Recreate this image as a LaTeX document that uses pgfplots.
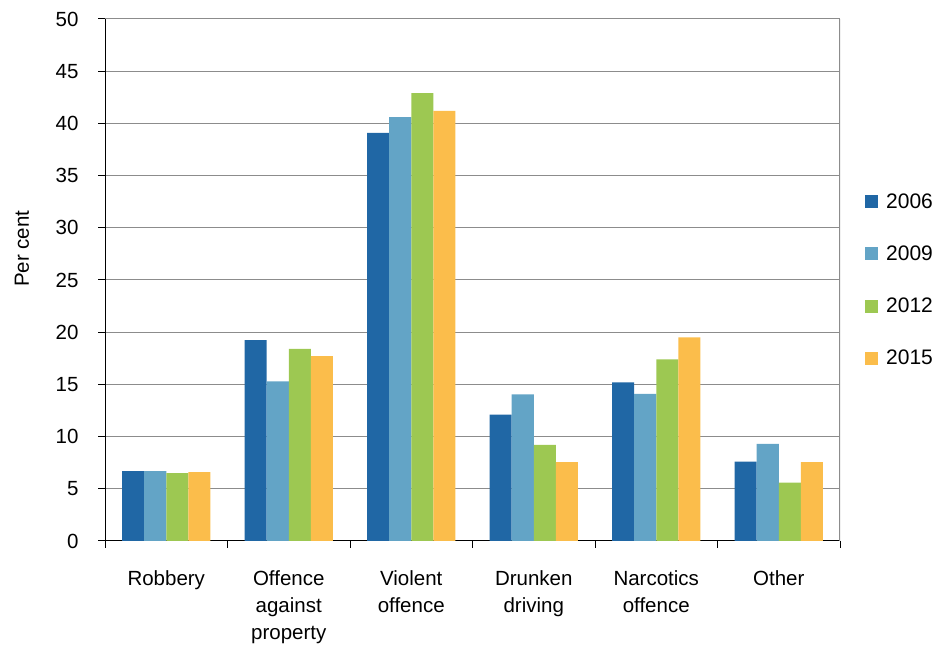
\documentclass[border=0pt]{standalone}
\usepackage{pgfplots}
\pgfplotsset{compat=1.18}
\usepackage{fontspec}
\setmainfont{Liberation Sans}

\definecolor{c2006}{HTML}{2067A5}
\definecolor{c2009}{HTML}{63A4C6}
\definecolor{c2012}{HTML}{9DC852}
\definecolor{c2015}{HTML}{FBBD4B}
\definecolor{gridgray}{HTML}{8C8C8C}

\begin{document}
\begin{tikzpicture}[x=1bp,y=1bp]
\useasboundingbox (0,0) rectangle (942,646);
\begin{axis}[
  at={(105bp,105bp)}, anchor=south west,
  scale only axis, width=735bp, height=522bp,
  font=\fontsize{20.5bp}{27bp}\selectfont,
  /pgf/number format/assume math mode=true,
  ymin=0, ymax=50, ytick={0,5,...,50},
  xmin=-0.5, xmax=5.5,
  xtick={-0.5,0.5,...,5.5},
  xticklabels={Robbery,Offence\\against\\property,Violent\\offence,Drunken\\driving,Narcotics\\offence,Other},
  x tick label as interval,
  xticklabel style={align=center, yshift=-19bp},
  yticklabel style={xshift=-16bp},
  axis x line*=bottom, axis y line*=left,
  axis line style={black, line width=1bp, -},
  tick align=outside, major tick length=7bp,
  tick style={black, line width=1bp},
  ymajorgrids, grid style={gridgray, line width=1bp},
  ylabel={Per cent},
  ylabel style={at={(axis description cs:-0.113,0.56)}, anchor=center},
  ybar, bar width=0.18,
  legend style={at={(axis description cs:1.034,0.5)}, anchor=west, draw=none, fill=none,
    row sep=32bp, font=\fontsize{21bp}{24bp}\selectfont, inner sep=0pt,
    /tikz/every odd column/.append style={column sep=6bp}},
  legend cell align=left,
  legend image code/.code={\fill[#1] (0bp,-6.5bp) rectangle (13bp,6.5bp);},
]
\addplot[fill=c2006, draw=none, bar shift=-0.27] coordinates {(0,6.7) (1,19.25) (2,39.1) (3,12.1) (4,15.2) (5,7.6)};
\addplot[fill=c2009, draw=none, bar shift=-0.09] coordinates {(0,6.7) (1,15.3) (2,40.6) (3,14.05) (4,14.1) (5,9.3)};
\addplot[fill=c2012, draw=none, bar shift=0.09] coordinates {(0,6.5) (1,18.4) (2,42.9) (3,9.2) (4,17.4) (5,5.6)};
\addplot[fill=c2015, draw=none, bar shift=0.27] coordinates {(0,6.6) (1,17.7) (2,41.2) (3,7.55) (4,19.5) (5,7.55)};
\legend{2006,2009,2012,2015}
\draw[gridgray, line width=1.5bp] (rel axis cs:1,0) -- (rel axis cs:1,1);
\end{axis}
\end{tikzpicture}
\end{document}
